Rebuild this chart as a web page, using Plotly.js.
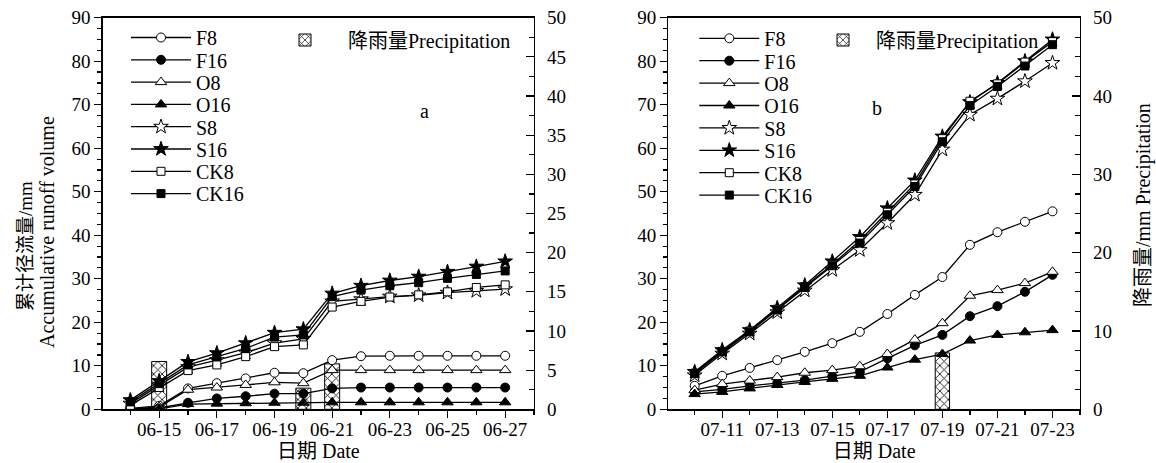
<!DOCTYPE html>
<html><head><meta charset="utf-8">
<script src="https://cdn.plot.ly/plotly-3.0.1.min.js"></script>
<style>html,body{margin:0;padding:0;background:#fff}#chart{width:1156px;height:463px}</style>
</head><body><div id="chart"></div>
<script>
// ---- data ----
const seriesNames = ['F8','F16','O8','O16','S8','S16','CK8','CK16'];
const datesA = ['06-14','06-15','06-16','06-17','06-18','06-19','06-20','06-21','06-22','06-23','06-24','06-25','06-26','06-27'];
const F8_a   = [0.2, 0.8, 4.8, 6.0, 7.1, 8.4, 8.3, 11.3, 12.2, 12.3, 12.3, 12.3, 12.3, 12.3];
const F16_a  = [0.1, 0.3, 1.5, 2.5, 3.0, 3.6, 3.6, 4.8, 5.0, 5.0, 5.0, 5.0, 5.0, 5.0];
const O8_a   = [0.1, 0.5, 4.5, 5.0, 5.6, 6.2, 6.0, 9.0, 9.0, 9.0, 9.0, 9.0, 9.0, 9.0];
const O16_a  = [0.0, 0.1, 1.2, 1.3, 1.4, 1.5, 1.5, 1.6, 1.6, 1.6, 1.6, 1.6, 1.6, 1.6];
const S8_a   = [1.3, 5.5, 9.7, 11.3, 13.0, 15.2, 16.2, 24.8, 25.3, 25.9, 26.2, 26.8, 27.2, 27.6];
const S16_a  = [2.1, 6.5, 10.9, 12.9, 15.2, 17.6, 18.4, 26.6, 28.4, 29.6, 30.5, 31.6, 32.8, 34.0];
const CK8_a  = [0.9, 5.0, 8.9, 10.2, 12.1, 14.4, 14.8, 23.5, 24.8, 25.8, 26.3, 27.0, 28.0, 28.6];
const CK16_a = [1.7, 5.9, 10.2, 12.1, 14.0, 16.6, 17.1, 25.9, 27.4, 28.4, 29.1, 30.1, 31.0, 31.8];
const precipDatesA = ['06-15','06-20','06-21'];
const precipA = [6.1, 2.7, 5.8];

const datesB = ['07-10','07-11','07-12','07-13','07-14','07-15','07-16','07-17','07-18','07-19','07-20','07-21','07-22','07-23'];
const F8_b   = [5.4, 7.7, 9.5, 11.3, 13.2, 15.2, 17.8, 21.9, 26.3, 30.4, 37.8, 40.7, 43.1, 45.5];
const F16_b  = [4.0, 4.6, 5.4, 6.0, 6.7, 7.6, 8.6, 11.7, 14.7, 17.1, 21.4, 23.7, 27.0, 30.9];
const O8_b   = [4.4, 5.8, 6.6, 7.4, 8.4, 9.0, 9.9, 12.7, 16.0, 19.8, 26.1, 27.4, 29.0, 31.6];
const O16_b  = [3.5, 4.0, 4.8, 5.6, 6.3, 7.0, 7.7, 9.6, 11.4, 12.7, 15.8, 17.1, 17.7, 18.2];
const S8_b   = [7.8, 12.8, 17.4, 22.3, 27.3, 32.0, 36.6, 42.8, 49.3, 59.7, 67.7, 71.4, 75.4, 79.6];
const S16_b  = [8.6, 13.6, 18.2, 23.3, 28.5, 34.0, 39.6, 46.2, 52.6, 62.7, 70.6, 75.0, 80.0, 85.0];
const CK8_b  = [8.2, 13.3, 18.0, 23.0, 28.2, 33.3, 38.8, 45.3, 51.8, 62.2, 70.8, 74.8, 79.8, 84.5];
const CK16_b = [8.3, 13.2, 17.8, 22.8, 28.0, 33.0, 38.2, 44.7, 51.2, 61.5, 69.8, 74.2, 78.9, 83.8];
const precipDatesB = ['07-19'];
const precipB = [7.2];

const precipName = '降雨量Precipitation';
const tickFmt = '%m-%d';

// ---- styles ----
const YEAR = '2014-';
const SERIF = 'Liberation Serif';
const FONT = 'Liberation Serif, Times New Roman, Noto Sans CJK SC, serif';
const W = 1156, H = 463;
const DAY = 86400000;
const symbols = ['circle','circle','triangle-up','triangle-up','star','star','square','square'];
const fills = ['white','black','white','black','white','black','white','black'];
const sizes = [9,9,10,10,11,11,8,8];
const seriesA = [F8_a,F16_a,O8_a,O16_a,S8_a,S16_a,CK8_a,CK16_a];
const seriesB = [F8_b,F16_b,O8_b,O16_b,S8_b,S16_b,CK8_b,CK16_b];

const toDate = arr => arr.map(d => YEAR + d);
const legName = k => k === 1 ? 'legend' : 'legend' + k;

const traces = [];
const layoutLegends = {};

function addPanel(dates, series, pDates, pVals, xa, yPre, yRun, legStart, legX, rowY0, rowDy, barLegX, barIW) {
  traces.push({
    type: 'bar', x: toDate(pDates), y: pVals, name: precipName,
    xaxis: xa, yaxis: yPre, width: 0.52 * DAY,
    marker: {color: 'white', line: {color: 'black', width: 1},
      pattern: {shape: 'x', fgcolor: 'black', bgcolor: 'white', size: 6, solidity: 0.25}},
    legend: legName(legStart + 8), showlegend: true
  });
  for (let i = 0; i < 8; i++) {
    traces.push({
      type: 'scatter', mode: 'lines+markers', x: toDate(dates), y: series[i],
      name: seriesNames[i], xaxis: xa, yaxis: yRun,
      line: {color: 'black', width: 1.3},
      marker: {symbol: symbols[i], size: sizes[i], color: fills[i], line: {color: 'black', width: 1}},
      legend: legName(legStart + i), showlegend: true
    });
    const yc = rowY0 + rowDy * i;
    layoutLegends[legName(legStart + i)] = {
      x: legX / W, y: 1 - (yc - 19.5) / H, xanchor: 'left', yanchor: 'top',
      bgcolor: 'rgba(0,0,0,0)', borderwidth: 0, itemwidth: 60,
      font: {family: FONT, size: 20, color: 'black'}
    };
  }
  layoutLegends[legName(legStart + 8)] = {
    x: barLegX / W, y: 1 - (40 - 19.5) / H, xanchor: 'left', yanchor: 'top',
    bgcolor: 'rgba(0,0,0,0)', borderwidth: 0, itemwidth: barIW,
    font: {family: FONT, size: 20, color: 'black'}
  };
}

addPanel(datesA, seriesA, precipDatesA, precipA, 'x', 'y', 'y2', 1, 126, 37.5, 22.3, 262, 76);
addPanel(datesB, seriesB, precipDatesB, precipB, 'x2', 'y3', 'y4', 10, 694.3, 38.3, 22.4, 810, 56);

const yDom = [1 - 409.3 / H, 1 - 17.7 / H];
const tickFont = {family: FONT, size: 19, color: 'black'};
const axBase = {showline: true, linecolor: 'black', linewidth: 1.3, showgrid: false, zeroline: false,
  tickcolor: 'black', tickwidth: 1.2, tickfont: tickFont, automargin: false};

function xAxis(domain, range, tick0, anchor) {
  return Object.assign({}, axBase, {
    type: 'date', domain: domain, range: range, anchor: anchor,
    tick0: tick0, dtick: 2 * DAY, tickformat: tickFmt, ticks: 'outside', ticklen: 7,
    ticklabelstandoff: -4,
    minor: {dtick: DAY, ticks: 'outside', ticklen: 4, tickcolor: 'black', tickwidth: 1.2},
    mirror: true,
    title: {text: '日期 <span style="font-family:' + SERIF + '">Date</span>', font: {family: FONT, size: 20, color: 'black'}, standoff: 2}
  });
}
function yPrecip(anchor, dtick) {
  return Object.assign({}, axBase, {
    domain: yDom, range: [0, 50], side: 'right', anchor: anchor,
    dtick: dtick, ticks: 'inside', ticklen: 8, ticklabelstandoff: 8,
    minor: {dtick: 2.5, ticks: 'inside', ticklen: 5, tickcolor: 'black', tickwidth: 1.2}
  });
}
function yRunoff(anchor, over) {
  return Object.assign({}, axBase, {
    domain: yDom, range: [0, 90], side: 'left', anchor: anchor, overlaying: over,
    dtick: 10, ticks: 'outside', ticklen: 7,
    minor: {dtick: 2.5, ticks: 'outside', ticklen: 4, tickcolor: 'black', tickwidth: 1.2}
  });
}

const annFont = {family: FONT, size: 20, color: 'black'};
const layout = Object.assign({
  width: W, height: H, margin: {l: 0, r: 0, t: 0, b: 0},
  paper_bgcolor: 'white', plot_bgcolor: 'white',
  font: {family: FONT, color: 'black'},
  showlegend: true,
  bargap: 0,
  xaxis: xAxis([102.7 / W, 534 / W], [YEAR + '06-13 01:00', YEAR + '06-28'], YEAR + '06-15', 'y'),
  yaxis: yPrecip('x', 5),
  yaxis2: yRunoff('x', 'y'),
  xaxis2: xAxis([668.3 / W, 1080 / W], [YEAR + '07-09 01:00', YEAR + '07-24'], YEAR + '07-11', 'y3'),
  yaxis3: yPrecip('x2', 10),
  yaxis4: yRunoff('x2', 'y3'),
  annotations: [
    {text: 'a', x: 424 / W, y: 1 - 111 / H, xref: 'paper', yref: 'paper', xanchor: 'center', yanchor: 'middle', showarrow: false, font: annFont},
    {text: 'b', x: 877 / W, y: 1 - 108 / H, xref: 'paper', yref: 'paper', xanchor: 'center', yanchor: 'middle', showarrow: false, font: annFont},
    {text: '累计径流量/mm', x: 25 / W, y: 1 - 246 / H, xref: 'paper', yref: 'paper', xanchor: 'center', yanchor: 'middle', showarrow: false, textangle: -90, font: {family: FONT, size: 19, color: 'black'}},
    {text: 'Accumulative runoff volume', x: 47 / W, y: 1 - 232 / H, xref: 'paper', yref: 'paper', xanchor: 'center', yanchor: 'middle', showarrow: false, textangle: -90, font: annFont},
    {text: '降雨量/mm Precipitation', x: 1143 / W, y: 1 - 205 / H, xref: 'paper', yref: 'paper', xanchor: 'center', yanchor: 'middle', showarrow: false, textangle: -90, font: annFont}
  ]
}, layoutLegends);

Plotly.newPlot('chart', traces, layout, {staticPlot: true, displayModeBar: false});
</script>
</body></html>
